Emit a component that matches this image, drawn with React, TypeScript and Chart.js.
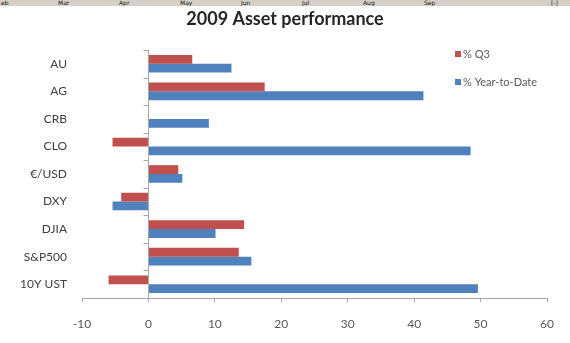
import { useEffect, useRef } from "react";
import { Chart, registerables } from "chart.js";

Chart.register(...registerables);

// Asset classes, top to bottom
const categories = ["AU", "AG", "CRB", "CLO", "€/USD", "DXY", "DJIA", "S&P500", "10Y UST"];
// Third-quarter return, %
const q3Values = [6.6, 17.5, 0, -5.4, 4.5, -4.1, 14.4, 13.6, -6.0];
// Year-to-date return, %
const ytdValues = [12.5, 41.4, 9.1, 48.5, 5.1, -5.4, 10.1, 15.5, 49.6];
const seriesNames = ["% Q3", "% Year-to-Date"];
const seriesColors = ["#C0504D", "#4F81BD"];
const xMin = -10;
const xMax = 60;
const xStep = 10;
const chartTitle = "2009 Asset performance";
// Month strip along the top edge
const stripMonths = ["eb", "Mar", "Apr", "May", "Jun", "Jul", "Aug", "Sep"];
const stripEnd = "[-]";

const FONT = "Lato, 'Open Sans', sans-serif";

const titlePlugin = {
  id: "fixedTitle",
  afterDraw(chart: any) {
    const { ctx } = chart;
    ctx.save();
    ctx.font = `bold 18px ${FONT}`;
    ctx.fillStyle = "#262626";
    ctx.textAlign = "center";
    ctx.textBaseline = "middle";
    ctx.fillText(chartTitle, chart.width / 2, 19);
    ctx.restore();
  },
};

const zeroAxisPlugin = {
  id: "zeroAxis",
  afterDatasetsDraw(chart: any) {
    const { ctx, chartArea, scales } = chart;
    const x0 = Math.round(scales.x.getPixelForValue(0)) + 0.5;
    const n = chart.data.labels.length;
    ctx.save();
    ctx.strokeStyle = "#a6a6a6";
    ctx.lineWidth = 1;
    ctx.beginPath();
    ctx.moveTo(x0, chartArea.top);
    ctx.lineTo(x0, chartArea.bottom);
    for (let i = 0; i < n; i++) {
      const y = Math.round(chartArea.top + ((chartArea.bottom - chartArea.top) * i) / n) + 0.5;
      ctx.moveTo(x0 - 5, y);
      ctx.lineTo(x0, y);
    }
    ctx.stroke();
    ctx.restore();
  },
};

const legendPlugin = {
  id: "sideLegend",
  afterDraw(chart: any) {
    const { ctx } = chart;
    ctx.save();
    ctx.font = `11px ${FONT}`;
    ctx.textBaseline = "middle";
    chart.data.datasets.forEach((ds: any, i: number) => {
      const y = 54 + i * 28;
      ctx.fillStyle = ds.backgroundColor;
      ctx.fillRect(455, y - 3, 6, 6);
      ctx.fillStyle = "#595959";
      ctx.fillText(ds.label, 463, y);
    });
    ctx.restore();
  },
};

function MonthStrip() {
  return (
    <div
      style={{
        position: "absolute",
        left: 0,
        top: 0,
        width: 570,
        height: 6,
        background: "#d4d0c8",
        overflow: "hidden",
        fontFamily: "'DejaVu Sans', sans-serif",
        fontSize: 6,
        lineHeight: "6px",
        color: "#111",
        zIndex: 2,
      }}
    >
      {stripMonths.map((m, i) => (
        <span key={m} style={{ position: "absolute", left: 1 + i * 61 - (i === 0 ? 0 : 4), top: 0 }}>
          {m}
        </span>
      ))}
      <span style={{ position: "absolute", left: 551, top: 0 }}>{stripEnd}</span>
    </div>
  );
}

export default function App() {
  const canvasRef = useRef<HTMLCanvasElement | null>(null);

  useEffect(() => {
    if (!canvasRef.current) return;
    const chart = new Chart(canvasRef.current, {
      type: "bar",
      data: {
        labels: categories,
        datasets: [
          { label: seriesNames[0], data: q3Values, backgroundColor: seriesColors[0], borderWidth: 0 },
          { label: seriesNames[1], data: ytdValues, backgroundColor: seriesColors[1], borderWidth: 0 },
        ],
      },
      options: {
        indexAxis: "y",
        responsive: false,
        animation: false,
        layout: { padding: { top: 50, right: 23, bottom: 0, left: 0 } },
        datasets: { bar: { barPercentage: 1, categoryPercentage: 0.64 } },
        plugins: {
          legend: { display: false },
          title: { display: false },
          tooltip: { enabled: false },
        },
        scales: {
          x: {
            type: "linear",
            min: xMin,
            max: xMax,
            ticks: { stepSize: xStep, color: "#595959", font: { family: FONT, size: 12 }, padding: 15 },
            grid: { drawOnChartArea: false, drawTicks: true, tickLength: 4, color: "#a6a6a6" },
            border: { display: true, color: "#a6a6a6" },
            afterFit: (s: any) => {
              s.height = 45;
            },
          },
          y: {
            type: "category",
            ticks: { color: "#404040", font: { family: FONT, size: 12 }, padding: 15 },
            grid: { display: false, drawTicks: false },
            border: { display: false },
            afterFit: (s: any) => {
              s.width = 82;
            },
          },
        },
      },
      plugins: [zeroAxisPlugin, titlePlugin, legendPlugin],
    } as any);
    return () => chart.destroy();
  }, []);

  return (
    <div style={{ position: "absolute", left: 0, top: 0, width: 570, height: 343, background: "#fff" }}>
      <MonthStrip />
      <canvas ref={canvasRef} width={570} height={343} style={{ display: "block" }} />
    </div>
  );
}
